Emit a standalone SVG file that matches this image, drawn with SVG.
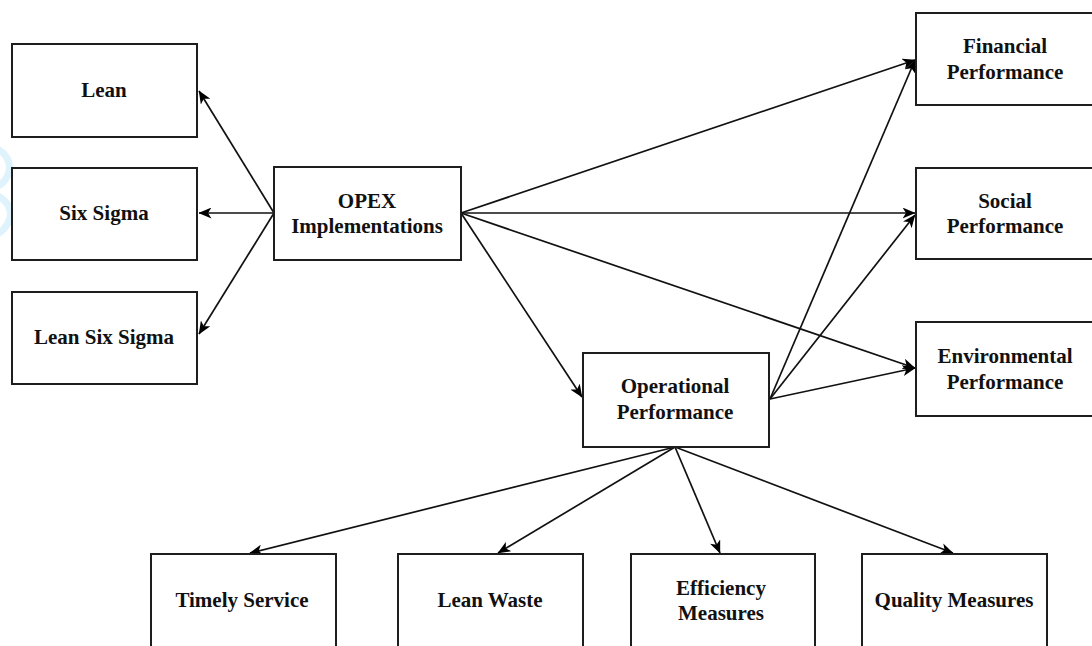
<svg xmlns="http://www.w3.org/2000/svg" width="1092" height="646" viewBox="0 0 1092 646">
  <defs>
    <marker id="arrow" viewBox="0 0 13 11" markerWidth="13" markerHeight="11" refX="12.5" refY="5.5" orient="auto" markerUnits="userSpaceOnUse">
      <path d="M0,0 L13,5.5 L0,11 L3.5,5.5 z" fill="#000"/>
    </marker>
    <style>
      .box { fill: #fff; stroke: #1e1e1e; stroke-width: 2; }
      .lbl { font-family: "Liberation Serif", "Times New Roman", serif; font-weight: bold; font-size: 21px; fill: #111; text-anchor: middle; }
      .edge { stroke: #111; stroke-width: 1.7; fill: none; marker-end: url(#arrow); }
      .mark { stroke: #dff3fd; stroke-width: 7; fill: none; stroke-linecap: round; }
    </style>
  </defs>

  <rect width="1092" height="646" fill="#fff"/>

  <!-- faint decorative arcs at the left margin -->
  <g id="edge-mark">
    <path class="mark" d="M-2,149 Q12,158 9,172 Q6,182 -2,186"/>
    <path class="mark" d="M-2,196 Q13,205 10,218 Q7,228 -2,234"/>
  </g>

  <g id="connectors">
    <!-- OPEX to methods -->
    <line class="edge" x1="274" y1="213" x2="199" y2="91"/>
    <line class="edge" x1="274" y1="213" x2="199" y2="213"/>
    <line class="edge" x1="274" y1="213" x2="199" y2="334"/>
    <!-- OPEX to outcomes -->
    <line class="edge" x1="461" y1="213" x2="915" y2="60"/>
    <line class="edge" x1="461" y1="213" x2="915" y2="213"/>
    <line class="edge" x1="461" y1="213" x2="915" y2="368"/>
    <line class="edge" x1="461" y1="213" x2="582" y2="397"/>
    <!-- Operational to outcomes -->
    <line class="edge" x1="770" y1="399" x2="915" y2="60"/>
    <line class="edge" x1="770" y1="399" x2="915" y2="215"/>
    <line class="edge" x1="770" y1="399" x2="915" y2="368"/>
    <!-- Operational to measures -->
    <line class="edge" x1="675" y1="447" x2="250" y2="553"/>
    <line class="edge" x1="675" y1="447" x2="498" y2="553"/>
    <line class="edge" x1="675" y1="447" x2="720" y2="553"/>
    <line class="edge" x1="675" y1="447" x2="953" y2="553"/>
  </g>

  <g id="lean">
    <rect class="box" x="12" y="44" width="185" height="93"/>
    <text class="lbl" x="104" y="97">Lean</text>
  </g>
  <g id="six-sigma">
    <rect class="box" x="12" y="168" width="185" height="92"/>
    <text class="lbl" x="104" y="220">Six Sigma</text>
  </g>
  <g id="lean-six-sigma">
    <rect class="box" x="12" y="292" width="185" height="92"/>
    <text class="lbl" x="104" y="344">Lean Six Sigma</text>
  </g>
  <g id="opex">
    <rect class="box" x="274" y="167" width="187" height="93"/>
    <text class="lbl" x="367" y="208">OPEX</text>
    <text class="lbl" x="367" y="233">Implementations</text>
  </g>
  <g id="financial">
    <rect class="box" x="916" y="13" width="180" height="92"/>
    <text class="lbl" x="1005" y="53">Financial</text>
    <text class="lbl" x="1005" y="79">Performance</text>
  </g>
  <g id="social">
    <rect class="box" x="916" y="168" width="180" height="91"/>
    <text class="lbl" x="1005" y="208">Social</text>
    <text class="lbl" x="1005" y="233">Performance</text>
  </g>
  <g id="environmental">
    <rect class="box" x="916" y="322" width="180" height="94"/>
    <text class="lbl" x="1005" y="363">Environmental</text>
    <text class="lbl" x="1005" y="389">Performance</text>
  </g>
  <g id="operational">
    <rect class="box" x="583" y="353" width="186" height="94"/>
    <text class="lbl" x="675" y="393">Operational</text>
    <text class="lbl" x="675" y="419">Performance</text>
  </g>
  <g id="timely-service">
    <rect class="box" x="151" y="554" width="185" height="110"/>
    <text class="lbl" x="242" y="607">Timely Service</text>
  </g>
  <g id="lean-waste">
    <rect class="box" x="398" y="554" width="185" height="110"/>
    <text class="lbl" x="490" y="607">Lean Waste</text>
  </g>
  <g id="efficiency">
    <rect class="box" x="631" y="554" width="184" height="110"/>
    <text class="lbl" x="721" y="595">Efficiency</text>
    <text class="lbl" x="721" y="620">Measures</text>
  </g>
  <g id="quality">
    <rect class="box" x="862" y="554" width="185" height="110"/>
    <text class="lbl" x="954" y="607">Quality Measures</text>
  </g>
</svg>
